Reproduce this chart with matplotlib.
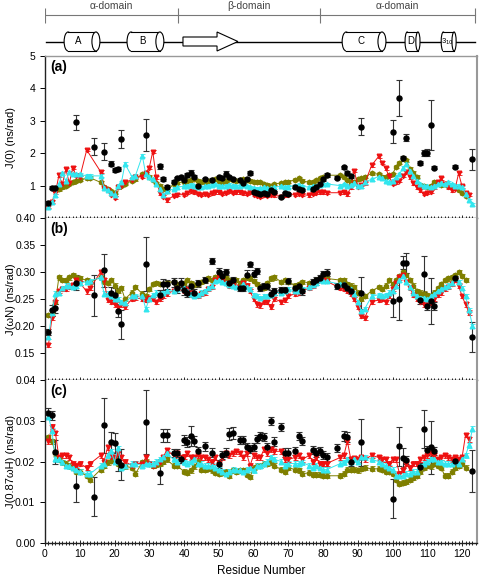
import numpy as np
import matplotlib
matplotlib.use('Agg')
import matplotlib.pyplot as plt
from matplotlib.patches import Rectangle, Ellipse, Polygon
from matplotlib.ticker import MultipleLocator

plt.rcParams['font.family'] = ['Liberation Sans', 'DejaVu Sans']
nan = np.nan

# ---- secondary structure / domains (residue numbers) ----
domain_edges = [0, 38.3, 79.1, 123.7]
domain_names = ['α-domain', 'β-domain', 'α-domain']
helix_names = ['A', 'B', 'C', 'D', '3$_{10}$']
helix_start = [5.5, 23.6, 85.5, 103.6, 114.0]
helix_end = [15.8, 34.2, 98.1, 107.9, 118.3]
strand = [39.7, 49.5, 55.5]

residues = np.arange(1, 124)

# ---- model series, residues 1..123 (nan = not determined) ----
red_a = [0.35, 0.50, 0.78, 1.32, 1.05, 1.50, 1.08, 1.55, 1.30, 1.25,
         nan, 2.10, nan, nan, nan, 1.43, 0.92, 0.85, 0.72, 0.62,
         0.95, 1.00, 1.10, nan, 1.18, 1.25, nan, 1.28, 1.38, 1.55,
         2.05, 1.25, 0.76, 0.65, 0.55, nan, 0.68, 0.72, nan, 0.72,
         0.78, 0.82, 0.80, 0.75, 0.72, 0.74, 0.72, 0.76, 0.80, 0.79,
         0.74, 0.78, 0.82, 0.78, 0.80, 0.80, 0.76, 0.74, 0.80, 0.72,
         0.68, 0.66, 0.70, 0.68, 0.72, 0.70, nan, 0.66, 0.70, 0.72,
         nan, 0.72, 0.74, 0.72, nan, 0.70, 0.74, 0.78, 0.80, 0.80,
         0.78, nan, nan, nan, 0.78, 0.80, 0.73, 0.95, 1.46, 0.97,
         1.02, 1.07, nan, 1.63, nan, 1.90, 1.70, 1.53, 1.30, 1.05,
         1.10, 1.15, 1.30, 1.42, 1.26, 1.07, 0.95, 0.85, 0.74, 0.78,
         0.81, 0.95, 1.10, 1.22, 1.05, 0.95, 0.85, 0.90, 1.38, 0.98,
         0.77, 0.72, nan]
cyan_a = [0.33, 0.48, 0.70, 1.05, 1.38, 1.15, 1.42, 1.35, 1.35, 1.35,
          nan, 1.30, 1.30, nan, nan, 1.30, 0.93, 0.85, 0.78, 0.72,
          1.00, 1.10, 1.67, nan, 1.28, 1.30, nan, 1.92, 1.35, 1.25,
          1.20, 1.05, 0.90, 0.70, 0.82, nan, 0.90, 0.95, nan, 0.98,
          1.00, 1.02, 1.00, 0.96, 0.95, 0.98, 1.00, 1.02, 1.05, 1.00,
          0.98, 1.00, 1.02, 1.00, 0.98, 1.00, 1.02, 0.98, 0.95, 0.92,
          0.90, 0.92, 0.95, 0.93, 0.92, 0.95, nan, 0.98, 0.95, 0.96,
          nan, 1.00, 1.02, 0.98, nan, 0.95, 0.98, 1.00, 1.02, 1.05,
          1.05, nan, nan, nan, 1.00, 1.05, 1.00, 1.02, 1.08, 1.00,
          0.98, 1.10, nan, 1.20, nan, 1.28, 1.22, 1.15, 1.10, 1.15,
          1.25, 1.35, 1.55, 1.67, 1.45, 1.30, 1.15, 1.05, 1.00, 0.98,
          0.95, 1.00, 1.05, 1.08, 1.05, 1.10, 1.05, 1.00, 1.00, 0.95,
          0.75, 0.55, 0.42]
olive_a = [nan, nan, 0.85, 0.88, 0.95, 1.00, 1.05, 1.10, 1.15, 1.18,
           nan, 1.22, 1.24, nan, nan, 1.10, 0.95, 0.88, 0.82, 0.78,
           0.95, 1.00, 1.05, nan, 1.15, 1.20, nan, 1.35, 1.38, 1.28,
           1.18, 1.08, 1.00, 0.90, 0.82, nan, 1.05, 1.08, nan, 1.12,
           1.15, 1.18, 1.20, 1.15, 1.12, 1.10, 1.15, 1.18, 1.20, 1.15,
           1.12, 1.15, 1.20, 1.18, 1.15, 1.18, 1.20, 1.17, 1.15, 1.12,
           1.12, 1.10, 1.05, 1.02, 1.00, 1.05, nan, 1.08, 1.10, 1.12,
           nan, 1.18, 1.22, 1.15, nan, 1.10, 1.12, 1.17, 1.22, 1.28,
           1.32, nan, nan, nan, 1.32, 1.25, 1.18, 1.12, 1.12, 1.20,
           1.22, 1.27, nan, 1.38, nan, 1.35, 1.27, 1.28, 1.32, 1.35,
           1.58, 1.70, 1.84, 1.78, 1.52, 1.40, 1.27, 1.01, 0.98, 0.96,
           1.00, 1.12, 1.08, 1.01, 1.05, 1.00, 0.96, 0.92, 0.86, 0.76,
           0.68, nan, nan]

red_b = [0.165, 0.215, 0.245, 0.265, 0.268, 0.268, 0.272, 0.276, 0.285, 0.280,
         nan, 0.264, 0.270, nan, nan, 0.300, 0.285, 0.248, 0.245, 0.240,
         0.235, 0.240, 0.235, nan, 0.250, 0.252, nan, 0.250, 0.248, 0.252,
         0.250, 0.245, 0.250, 0.255, 0.260, nan, 0.265, 0.268, nan, 0.265,
         0.268, 0.262, 0.258, 0.255, 0.260, 0.262, 0.268, 0.272, 0.285, 0.290,
         0.285, 0.280, 0.275, 0.278, 0.272, 0.270, 0.280, 0.275, 0.265, 0.250,
         0.240, 0.238, 0.245, 0.244, 0.236, 0.250, nan, 0.245, 0.248, 0.255,
         nan, 0.260, 0.262, 0.265, nan, 0.270, 0.275, 0.280, 0.285, 0.285,
         0.283, nan, nan, nan, 0.270, 0.268, 0.265, 0.260, 0.250, 0.235,
         0.218, 0.215, nan, 0.245, nan, 0.248, 0.250, 0.245, 0.255, 0.268,
         0.280, 0.290, 0.295, 0.282, 0.270, 0.258, 0.250, 0.245, 0.240, 0.240,
         0.243, 0.250, 0.258, 0.262, 0.268, 0.272, 0.278, 0.285, 0.275, 0.255,
         0.240, 0.225, nan]
cyan_b = [0.180, 0.225, 0.260, 0.262, 0.270, 0.275, 0.275, 0.272, 0.275, 0.280,
          nan, 0.282, 0.283, nan, nan, 0.290, 0.260, 0.260, 0.255, 0.250,
          0.250, 0.245, 0.243, nan, 0.255, 0.256, nan, 0.255, 0.232, 0.250,
          0.258, 0.262, 0.260, 0.262, 0.265, nan, 0.265, 0.268, nan, 0.270,
          0.265, 0.260, 0.255, 0.258, 0.262, 0.265, 0.270, 0.275, 0.283, 0.285,
          0.282, 0.280, 0.276, 0.275, 0.272, 0.272, 0.278, 0.272, 0.268, 0.258,
          0.255, 0.252, 0.255, 0.256, 0.258, 0.262, nan, 0.262, 0.265, 0.268,
          nan, 0.265, 0.265, 0.268, nan, 0.272, 0.276, 0.280, 0.285, 0.284,
          0.283, nan, nan, nan, 0.277, 0.278, 0.272, 0.268, 0.260, 0.245,
          0.228, 0.232, nan, 0.255, nan, 0.258, 0.255, 0.258, 0.262, 0.265,
          0.275, 0.285, 0.292, 0.282, 0.272, 0.262, 0.255, 0.252, 0.252, 0.250,
          0.255, 0.260, 0.265, 0.268, 0.272, 0.275, 0.280, 0.288, 0.282, 0.270,
          0.255, 0.230, 0.200]
olive_b = [0.220, 0.222, 0.245, 0.290, 0.285, 0.285, 0.290, 0.295, 0.290, 0.288,
           nan, 0.285, 0.282, nan, nan, 0.290, 0.282, 0.280, 0.285, 0.275,
           0.265, 0.270, 0.250, nan, 0.262, 0.272, nan, 0.260, 0.255, 0.268,
           0.278, 0.280, 0.278, 0.278, 0.280, nan, 0.282, 0.278, nan, 0.280,
           0.285, 0.280, 0.276, 0.278, 0.282, 0.285, 0.288, 0.285, 0.290, 0.292,
           0.290, 0.288, 0.285, 0.282, 0.285, 0.280, 0.285, 0.290, 0.288, 0.283,
           0.278, 0.272, 0.270, 0.280, 0.288, 0.290, nan, 0.282, 0.285, 0.282,
           nan, 0.275, 0.278, 0.282, nan, 0.280, 0.282, 0.285, 0.288, 0.290,
           0.288, nan, nan, nan, 0.285, 0.285, 0.278, 0.275, 0.272, 0.262,
           0.250, 0.255, nan, 0.265, nan, 0.272, 0.268, 0.275, 0.285, 0.278,
           0.285, 0.292, 0.300, 0.295, 0.285, 0.275, 0.265, 0.262, 0.260, 0.258,
           0.255, 0.262, 0.270, 0.278, 0.285, 0.288, 0.290, 0.295, 0.300, 0.292,
           0.285, nan, nan]

red_c = [0.0250, 0.0285, 0.0270, 0.0210, 0.0215, 0.0215, 0.0210, 0.0195, 0.0190, 0.0195,
         nan, 0.0185, 0.0195, nan, nan, 0.0215, 0.0200, 0.0235, 0.0210, 0.0210,
         0.0220, 0.0210, 0.0200, nan, 0.0190, 0.0195, nan, 0.0195, 0.0210, 0.0195,
         0.0190, 0.0195, 0.0200, 0.0210, 0.0228, nan, 0.0215, 0.0220, nan, 0.0212,
         0.0220, 0.0210, 0.0210, 0.0215, 0.0210, 0.0210, 0.0205, 0.0200, 0.0210, 0.0195,
         0.0210, 0.0220, 0.0215, 0.0220, 0.0225, 0.0220, 0.0210, 0.0220, 0.0190, 0.0215,
         0.0210, 0.0210, 0.0230, 0.0220, 0.0230, 0.0225, nan, 0.0225, 0.0205, 0.0205,
         nan, 0.0210, 0.0215, 0.0205, nan, 0.0215, 0.0200, 0.0210, 0.0195, 0.0195,
         0.0195, nan, nan, nan, 0.0210, 0.0215, 0.0250, 0.0205, 0.0208, 0.0205,
         0.0210, 0.0205, nan, 0.0215, nan, 0.0210, 0.0205, 0.0205, 0.0195, 0.0205,
         0.0205, 0.0170, 0.0180, 0.0195, 0.0185, 0.0195, 0.0195, 0.0205, 0.0210, 0.0215,
         0.0220, 0.0215, 0.0205, 0.0210, 0.0215, 0.0210, 0.0205, 0.0210, 0.0205, 0.0210,
         0.0265, 0.0255, nan]
cyan_c = [0.0310, 0.0275, 0.0205, 0.0205, 0.0198, 0.0190, 0.0188, 0.0185, 0.0180, 0.0175,
          nan, 0.0170, 0.0170, nan, nan, 0.0190, 0.0195, 0.0215, 0.0225, 0.0200,
          0.0232, 0.0185, 0.0190, nan, 0.0195, 0.0195, nan, 0.0190, 0.0195, 0.0195,
          0.0195, 0.0200, 0.0205, 0.0210, 0.0220, nan, 0.0205, 0.0200, nan, 0.0198,
          0.0195, 0.0200, 0.0205, 0.0195, 0.0195, 0.0190, 0.0190, 0.0190, 0.0185, 0.0180,
          0.0175, 0.0170, 0.0175, 0.0180, 0.0178, 0.0178, 0.0175, 0.0180, 0.0185, 0.0178,
          0.0190, 0.0190, 0.0195, 0.0200, 0.0210, 0.0205, nan, 0.0200, 0.0190, 0.0195,
          nan, 0.0195, 0.0195, 0.0198, nan, 0.0190, 0.0185, 0.0190, 0.0185, 0.0180,
          0.0180, nan, nan, nan, 0.0195, 0.0198, 0.0205, 0.0200, 0.0205, 0.0200,
          0.0210, 0.0210, nan, 0.0205, nan, 0.0200, 0.0195, 0.0190, 0.0185, 0.0180,
          0.0165, 0.0165, 0.0165, 0.0170, 0.0170, 0.0175, 0.0175, 0.0190, 0.0195, 0.0200,
          0.0205, 0.0205, 0.0200, 0.0198, 0.0195, 0.0195, 0.0195, 0.0200, 0.0195, 0.0205,
          0.0215, 0.0240, 0.0280]
olive_c = [0.0260, 0.0250, 0.0220, 0.0205, 0.0198, 0.0195, 0.0190, 0.0185, 0.0175, 0.0175,
           nan, 0.0165, 0.0155, nan, nan, 0.0180, 0.0190, 0.0198, 0.0202, 0.0205,
           0.0195, 0.0190, 0.0188, nan, 0.0185, 0.0170, nan, 0.0198, 0.0200, 0.0195,
           0.0190, 0.0192, 0.0195, 0.0200, 0.0205, nan, 0.0190, 0.0190, nan, 0.0175,
           0.0172, 0.0178, 0.0188, 0.0200, 0.0180, 0.0180, 0.0182, 0.0178, 0.0172, 0.0170,
           0.0172, 0.0175, 0.0165, 0.0178, 0.0175, 0.0178, 0.0178, 0.0168, 0.0162, 0.0185,
           0.0190, 0.0190, 0.0195, 0.0195, 0.0198, 0.0190, nan, 0.0180, 0.0175, 0.0185,
           nan, 0.0180, 0.0178, 0.0170, nan, 0.0172, 0.0168, 0.0168, 0.0168, 0.0165,
           0.0165, nan, nan, nan, 0.0165, 0.0170, 0.0180, 0.0180, 0.0180, 0.0178,
           0.0182, 0.0185, nan, 0.0182, nan, 0.0182, 0.0180, 0.0175, 0.0175, 0.0170,
           0.0155, 0.0145, 0.0148, 0.0150, 0.0155, 0.0160, 0.0165, 0.0175, 0.0185, 0.0190,
           0.0188, 0.0195, 0.0190, 0.0185, 0.0165, 0.0165, 0.0175, 0.0185, 0.0190, 0.0195,
           0.0185, nan, nan]

# ---- experimental values (black) ----
exp_res = [1, 2, 3, 9, 14, 17, 19, 20, 21, 22, 29, 33, 34, 35, 37, 38, 39, 40, 41, 42,
           43, 44, 46, 48, 50, 51, 52, 53, 54, 56, 57, 58, 59, 60, 61, 62, 63, 64, 65, 66,
           68, 69, 70, 72, 73, 74, 77, 78, 79, 80, 81, 84, 86, 87, 88, 91, 100, 102, 103, 104,
           108, 109, 110, 111, 112, 118, 123]
exp_a = [0.47, 0.93, 0.93, 2.95, 2.20, 2.05, 1.67, 1.47, 1.52, 2.45,
         2.57, 1.60, 1.19, 0.96, 1.12, 1.22, 1.25, 1.17, 1.32, 1.40,
         1.27, 0.99, 1.19, 1.17, 1.25, 1.22, 1.37, 1.25, 1.19, 1.17,
         1.07, 1.19, 1.38, 0.81, 0.76, 0.73, 0.78, 0.74, 0.86, 0.80,
         0.66, 0.76, 0.74, 0.97, 0.88, 0.86, 0.88, 0.97, 1.05, 1.19,
         1.32, 1.24, 1.56, 1.38, 1.29, 2.82, 2.66, 3.71, 1.84, 2.48,
         1.69, 2.00, 2.02, 2.87, 1.55, 1.58, 1.81]
exp_a_err = [0.05, 0.05, 0.05, 0.23, 0.26, 0.25, 0.08, 0.06, 0.06, 0.28,
             0.50, 0.08, 0.06, 0.05, 0.05, 0.05, 0.05, 0.05, 0.06, 0.07,
             0.06, 0.04, 0.05, 0.05, 0.05, 0.05, 0.07, 0.05, 0.05, 0.05,
             0.05, 0.05, 0.06, 0.04, 0.04, 0.04, 0.04, 0.04, 0.04, 0.04,
             0.04, 0.04, 0.04, 0.05, 0.04, 0.04, 0.04, 0.04, 0.05, 0.05,
             0.06, 0.05, 0.05, 0.06, 0.05, 0.26, 0.36, 0.55, 0.08, 0.10,
             0.06, 0.10, 0.10, 0.78, 0.05, 0.05, 0.32]
exp_b = [0.189, 0.229, 0.233, 0.280, 0.257, 0.303, 0.261, 0.258, 0.228, 0.203,
         0.314, 0.258, 0.277, 0.277, 0.281, 0.270, 0.280, 0.266, 0.262, 0.274,
         0.261, 0.279, 0.285, 0.320, 0.300, 0.293, 0.300, 0.280, 0.285, 0.270,
         0.270, 0.295, 0.314, 0.297, 0.302, 0.271, 0.274, 0.274, 0.260, 0.264,
         0.267, 0.267, 0.283, 0.271, 0.274, 0.264, 0.281, 0.285, 0.288, 0.296,
         0.299, 0.274, 0.276, 0.271, 0.265, 0.261, 0.246, 0.250, 0.317, 0.317,
         0.249, 0.296, 0.237, 0.246, 0.237, 0.288, 0.180]
exp_b_err = [0.005, 0.010, 0.008, 0.014, 0.038, 0.030, 0.012, 0.012, 0.012, 0.027,
             0.050, 0.008, 0.010, 0.008, 0.008, 0.008, 0.008, 0.008, 0.008, 0.008,
             0.008, 0.006, 0.006, 0.006, 0.008, 0.008, 0.006, 0.006, 0.006, 0.006,
             0.006, 0.008, 0.005, 0.006, 0.006, 0.006, 0.006, 0.006, 0.006, 0.006,
             0.006, 0.006, 0.006, 0.006, 0.006, 0.006, 0.006, 0.006, 0.006, 0.006,
             0.006, 0.006, 0.006, 0.006, 0.006, 0.030, 0.030, 0.038, 0.012, 0.018,
             0.008, 0.033, 0.008, 0.042, 0.008, 0.005, 0.028]
exp_c = [0.0319, 0.0313, 0.0223, 0.0141, 0.0114, 0.0289, 0.0248, 0.0246, 0.0202, 0.0192,
         0.0297, 0.0173, 0.0264, 0.0264, 0.0220, 0.0220, 0.0206, 0.0253, 0.0248, 0.0262,
         0.0250, 0.0226, 0.0237, 0.0222, 0.0194, 0.0215, 0.0222, 0.0268, 0.0270, 0.0253,
         0.0253, 0.0235, 0.0230, 0.0235, 0.0256, 0.0262, 0.0260, 0.0235, 0.0299, 0.0249,
         0.0284, 0.0222, 0.0222, 0.0225, 0.0262, 0.0251, 0.0229, 0.0222, 0.0226, 0.0215,
         0.0210, 0.0233, 0.0262, 0.0260, 0.0200, 0.0247, 0.0109, 0.0237, 0.0208, 0.0203,
         0.0186, 0.0280, 0.0227, 0.0235, 0.0226, 0.0202, 0.0177]
exp_c_err = [0.0012, 0.0010, 0.0030, 0.0040, 0.0047, 0.0068, 0.0025, 0.0025, 0.0025, 0.0038,
             0.0078, 0.0027, 0.0015, 0.0015, 0.0010, 0.0010, 0.0010, 0.0012, 0.0012, 0.0025,
             0.0012, 0.0010, 0.0012, 0.0010, 0.0010, 0.0010, 0.0010, 0.0015, 0.0015, 0.0010,
             0.0010, 0.0010, 0.0010, 0.0010, 0.0010, 0.0010, 0.0010, 0.0010, 0.0010, 0.0010,
             0.0010, 0.0010, 0.0010, 0.0010, 0.0010, 0.0010, 0.0010, 0.0010, 0.0010, 0.0010,
             0.0010, 0.0010, 0.0012, 0.0012, 0.0010, 0.0058, 0.0048, 0.0048, 0.0025, 0.0010,
             0.0010, 0.0047, 0.0010, 0.0065, 0.0010, 0.0010, 0.0052]

W, H = 480, 579
fig = plt.figure(figsize=(W / 100, H / 100), dpi=100)


def box(x0, y0, x1, y1):
    return [x0 / W, 1 - y1 / H, (x1 - x0) / W, (y1 - y0) / H]


ax_a = fig.add_axes(box(45, 56, 477, 218))
ax_b = fig.add_axes(box(45, 218, 477, 380))
ax_c = fig.add_axes(box(45, 380, 477, 543))
top = fig.add_axes(box(45, 0, 477, 56))

XMAX = 124.3
panels = [
    (ax_a, red_a, cyan_a, olive_a, exp_a, exp_a_err, 0.045, '(a)', 'J(0) (ns/rad)',
     (0, 5), [0, 1, 2, 3, 4, 5], ['0.40', '1', '2', '3', '4', '5']),
    (ax_b, red_b, cyan_b, olive_b, exp_b, exp_b_err, 0.004, '(b)', 'J(ωN) (ns/rad)',
     (0.10, 0.40), [0.10, 0.15, 0.20, 0.25, 0.30, 0.35],
     ['0.04', '0.15', '0.20', '0.25', '0.30', '0.35']),
    (ax_c, red_c, cyan_c, olive_c, exp_c, exp_c_err, 0.0006, '(c)', 'J(0.87ωH) (ns/rad)',
     (0, 0.04), [0, 0.01, 0.02, 0.03], ['0.00', '0.01', '0.02', '0.03']),
]

for ax, red, cyan, olive, ex, ex_err, merr, tag, ylab, ylim, yt, ytl in panels:
    for vals, col, mk in [(olive, '#7f7f00', 'h'), (red, '#ee1111', 'v'), (cyan, '#33e6ee', '^')]:
        v = np.array(vals)
        m = ~np.isnan(v)
        ax.errorbar(residues[m], v[m], yerr=merr, color=col, marker=mk, ms=3.3,
                    lw=0.7, elinewidth=0.6, capsize=1.8, capthick=0.6)
    ax.errorbar(exp_res, ex, yerr=ex_err, fmt='o', color='black', ms=3.6,
                ecolor='#333333', elinewidth=0.8, capsize=2.5, capthick=0.8)
    ax.set_xlim(0, XMAX)
    ax.set_ylim(*ylim)
    ax.set_yticks(yt)
    ax.set_yticklabels(ytl)
    ax.xaxis.set_major_locator(MultipleLocator(10))
    ax.xaxis.set_minor_locator(MultipleLocator(1))
    ax.tick_params(axis='y', direction='out', length=3.5, labelsize=7.5, width=0.7)
    ax.tick_params(axis='x', which='both', direction='inout', labelsize=7.5, width=0.6)
    ax.tick_params(axis='x', which='major', length=4, pad=2)
    ax.tick_params(axis='x', which='minor', length=2.5)
    ax.set_ylabel(ylab, fontsize=8)
    ax.yaxis.set_label_coords(-0.068, 0.5)
    ax.text(0.012, 0.91, tag, transform=ax.transAxes, fontsize=10, fontweight='bold')
    for s in ['left', 'bottom']:
        ax.spines[s].set_color('#222222')
        ax.spines[s].set_linewidth(1.0)
    ax.spines['right'].set_color('#999999')
    ax.spines['right'].set_linewidth(1.5)
    ax.spines['top'].set_color('#999999')
    ax.spines['top'].set_linewidth(1.0)

ax_b.spines['top'].set_visible(False)
ax_c.spines['top'].set_visible(False)
ax_a.tick_params(axis='x', labelbottom=False)
ax_b.tick_params(axis='x', labelbottom=False)
ax_c.set_xlabel('Residue Number', fontsize=8.5, labelpad=5)

# ---- secondary structure cartoon ----
top.set_xlim(0, XMAX)
top.set_ylim(56, 0)
top.axis('off')
top.plot([domain_edges[0], domain_edges[-1]], [15, 15], color='#777777', lw=0.8)
top.vlines(domain_edges, 8, 23, color='#777777', lw=0.8)
for i, name in enumerate(domain_names):
    top.text((domain_edges[i] + domain_edges[i + 1]) / 2, 6, name, ha='center', va='center',
             fontsize=7.5, color='#444444')

yc, hh = 41.5, 19
top.plot([0.3, 123.7], [yc, yc], color='black', lw=1.0, zorder=1)
for name, x0, x1 in zip(helix_names, helix_start, helix_end):
    cap = 1.15 if x1 - x0 > 6 else 0.6
    top.add_patch(Ellipse((x0 + cap, yc), 2 * cap, hh, fc='white', ec='black', lw=0.8, zorder=2))
    top.add_patch(Rectangle((x0 + cap, yc - hh / 2), x1 - x0 - 2 * cap, hh, fc='white',
                            ec='none', zorder=3))
    top.plot([x0 + cap, x1 - cap], [yc - hh / 2, yc - hh / 2], color='black', lw=0.8, zorder=4)
    top.plot([x0 + cap, x1 - cap], [yc + hh / 2, yc + hh / 2], color='black', lw=0.8, zorder=4)
    top.add_patch(Ellipse((x1 - cap, yc), 2 * cap, hh, fc='white', ec='black', lw=0.8, zorder=5))
    fs = 7 if len(name) == 1 else 5.5
    top.text((x0 + x1 - 2 * cap) / 2 + 0.2, yc, name, ha='center', va='center', fontsize=fs,
             zorder=6)

s0, s1, s2 = strand
top.add_patch(Polygon([(s0, yc - 4.5), (s1, yc - 4.5), (s1, yc - 9.5), (s2, yc),
                       (s1, yc + 9.5), (s1, yc + 4.5), (s0, yc + 4.5)],
                      closed=True, fc='white', ec='black', lw=0.8, zorder=3))

fig.savefig('out.png', dpi=100)
